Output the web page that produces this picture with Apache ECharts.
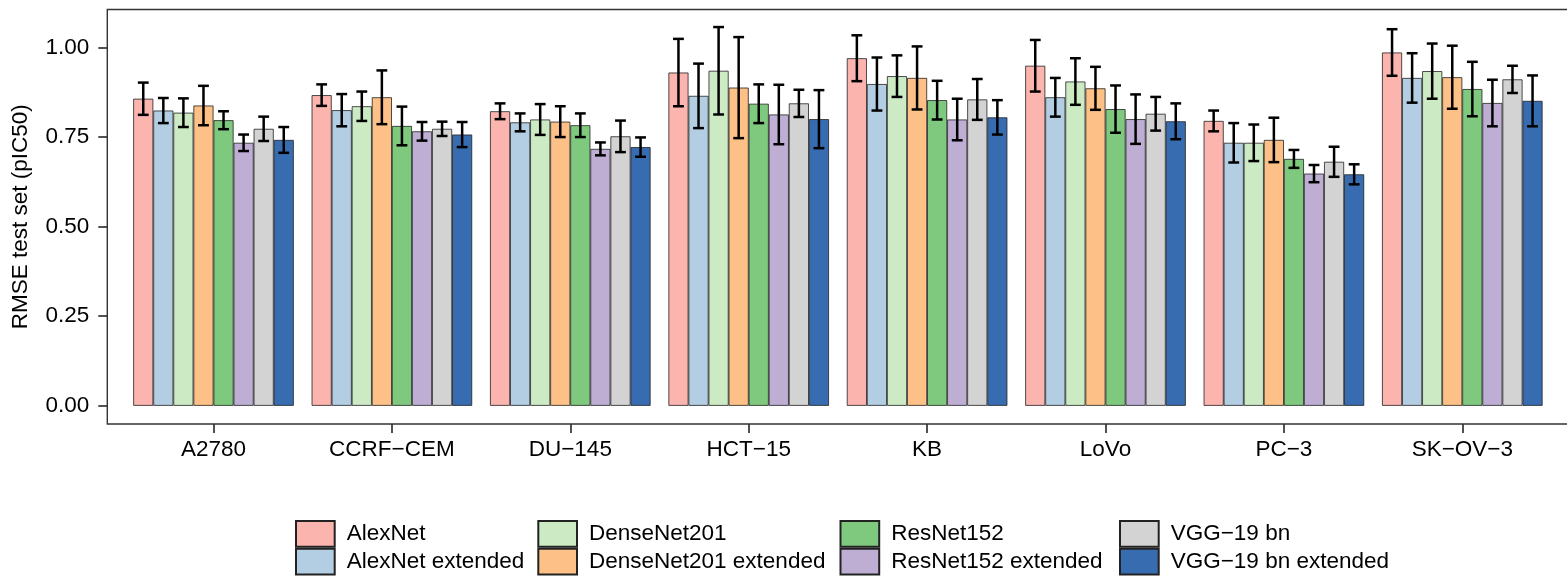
<!DOCTYPE html>
<html>
<head>
<meta charset="utf-8">
<script src="https://cdn.jsdelivr.net/npm/echarts@6/dist/echarts.min.js"></script>
<style>
html,body{margin:0;padding:0;background:#fff;}
#chart{width:1567px;height:577px;}
</style>
</head>
<body>
<div id="chart"></div>
<script>
// ---- data ----
var categories = ['A2780', 'CCRF\u2212CEM', 'DU\u2212145', 'HCT\u221215', 'KB', 'LoVo', 'PC\u22123', 'SK\u2212OV\u22123'];
var seriesNames = ['AlexNet', 'AlexNet extended', 'DenseNet201', 'DenseNet201 extended',
                   'ResNet152', 'ResNet152 extended', 'VGG\u221219 bn', 'VGG\u221219 bn extended'];

var alexnet     = [0.857, 0.867, 0.822, 0.930, 0.970, 0.949, 0.795, 0.986];
var alexnetExt  = [0.824, 0.825, 0.791, 0.865, 0.898, 0.861, 0.734, 0.915];
var densenet    = [0.818, 0.836, 0.799, 0.935, 0.920, 0.905, 0.734, 0.934];
var densenetExt = [0.838, 0.861, 0.793, 0.888, 0.915, 0.886, 0.742, 0.917];
var resnet      = [0.797, 0.781, 0.783, 0.843, 0.853, 0.828, 0.689, 0.884];
var resnetExt   = [0.734, 0.766, 0.717, 0.813, 0.799, 0.800, 0.648, 0.845];
var vgg         = [0.773, 0.773, 0.752, 0.844, 0.855, 0.815, 0.681, 0.911];
var vggExt      = [0.742, 0.757, 0.722, 0.800, 0.805, 0.794, 0.646, 0.851];

var errAlexnet     = [0.045, 0.030, 0.022, 0.094, 0.064, 0.072, 0.029, 0.065];
var errAlexnetExt  = [0.035, 0.045, 0.025, 0.090, 0.074, 0.054, 0.055, 0.069];
var errDensenet    = [0.040, 0.041, 0.043, 0.122, 0.058, 0.065, 0.051, 0.077];
var errDensenetExt = [0.055, 0.075, 0.043, 0.141, 0.088, 0.060, 0.062, 0.088];
var errResnet      = [0.025, 0.054, 0.033, 0.054, 0.054, 0.066, 0.025, 0.076];
var errResnetExt   = [0.023, 0.026, 0.018, 0.083, 0.058, 0.069, 0.024, 0.065];
var errVgg         = [0.034, 0.020, 0.044, 0.038, 0.057, 0.047, 0.042, 0.038];
var errVggExt      = [0.036, 0.035, 0.027, 0.081, 0.048, 0.050, 0.028, 0.071];

var yTicks = [0, 0.25, 0.5, 0.75, 1.0];

var colors = ['#FBB4AE', '#B3CDE3', '#CCEBC5', '#FDC086', '#7FC97F', '#BEAED4', '#D3D3D3', '#386CB0'];

// ---- build ----
var means = [alexnet, alexnetExt, densenet, densenetExt, resnet, resnetExt, vgg, vggExt];
var errs  = [errAlexnet, errAlexnetExt, errDensenet, errDensenetExt, errResnet, errResnetExt, errVgg, errVggExt];
var nSeries = means.length;
var FONT = "'Liberation Sans', Arial, Helvetica, sans-serif";
var FS = 22.5;

var series = [];
means.forEach(function (vals, i) {
  series.push({
    type: 'bar',
    name: seriesNames[i],
    xAxisIndex: 0, yAxisIndex: 0,
    data: vals,
    barGap: '0%',
    barCategoryGap: '10%',
    itemStyle: { color: colors[i], borderColor: '#222222', borderWidth: 0.8 },
    emphasis: { disabled: true },
    z: 2
  });
});
means.forEach(function (vals, i) {
  var d = vals.map(function (v, k) { return [k, v, errs[i][k]]; });
  series.push({
    type: 'custom',
    name: seriesNames[i] + ' err',
    xAxisIndex: 0, yAxisIndex: 0,
    data: d,
    z: 5,
    silent: true,
    renderItem: function (params, api) {
      var k = api.value(0), m = api.value(1), e = api.value(2);
      var band = api.size([1, 0])[0];
      var barW = band * 0.9 / nSeries;
      var cx = api.coord([k, m])[0] + (i - (nSeries - 1) / 2) * barW;
      var yHi = api.coord([k, m + e])[1];
      var yLo = api.coord([k, m - e])[1];
      var hw = barW * 0.27;
      var st = { stroke: '#000', lineWidth: 2.5, fill: null };
      return {
        type: 'group',
        children: [
          { type: 'line', shape: { x1: cx, y1: yHi, x2: cx, y2: yLo }, style: st },
          { type: 'line', shape: { x1: cx - hw, y1: yHi, x2: cx + hw, y2: yHi }, style: st },
          { type: 'line', shape: { x1: cx - hw, y1: yLo, x2: cx + hw, y2: yLo }, style: st }
        ]
      };
    }
  });
});

var legendLefts = [295, 537.3, 839.5, 1119];
var legends = [0, 1, 2, 3].map(function (c) {
  return {
    orient: 'vertical',
    left: legendLefts[c],
    top: 520,
    padding: 0,
    itemGap: 0,
    itemWidth: 38.7,
    itemHeight: 25.7,
    icon: 'rect',
    selectedMode: false,
    data: [seriesNames[2 * c], seriesNames[2 * c + 1]],
    textStyle: { fontFamily: FONT, fontSize: FS, color: '#000', padding: [0, 0, 0, 7] }
  };
});

var chart = echarts.init(document.getElementById('chart'), null, { renderer: 'canvas' });
chart.setOption({
  animation: false,
  backgroundColor: '#ffffff',
  grid: [
    { left: 124.3, top: 9.5, width: 1427.2, height: 414.5, show: false, outerBoundsMode: 'none', containLabel: false },
    { left: 107.3, top: 9.5, width: 1520, height: 414.5, show: true, outerBoundsMode: 'none', containLabel: false,
      borderColor: '#333333', borderWidth: 1.4, backgroundColor: 'transparent' }
  ],
  legend: legends,
  xAxis: [
    {
      type: 'category', gridIndex: 0, data: categories,
      position: 'bottom',
      axisLine: { show: false, onZero: false },
      axisTick: { show: true, alignWithLabel: true, length: 9, lineStyle: { color: '#333333', width: 1.7 } },
      axisLabel: { margin: 14, fontFamily: FONT, fontSize: FS, color: '#000', interval: 0 },
      splitLine: { show: false }
    },
    { type: 'value', gridIndex: 1, show: false, min: 0, max: 1 }
  ],
  yAxis: [
    {
      type: 'value', gridIndex: 0, min: -0.0508, max: 1.1060,
      offset: 17,
      axisLine: { show: false },
      axisTick: { show: true, length: 9, customValues: yTicks, lineStyle: { color: '#333333', width: 1.7 } },
      axisLabel: {
        margin: 18, fontFamily: FONT, fontSize: FS, color: '#000',
        customValues: yTicks,
        formatter: function (v) { return v.toFixed(2); }
      },
      splitLine: { show: false },
      name: 'RMSE test set (pIC50)',
      nameLocation: 'middle',
      nameRotate: 90,
      nameGap: 75,
      nameTextStyle: { fontFamily: FONT, fontSize: FS, color: '#000' }
    },
    { type: 'value', gridIndex: 1, show: false, min: 0, max: 1 }
  ],
  series: series
});
</script>
</body>
</html>
